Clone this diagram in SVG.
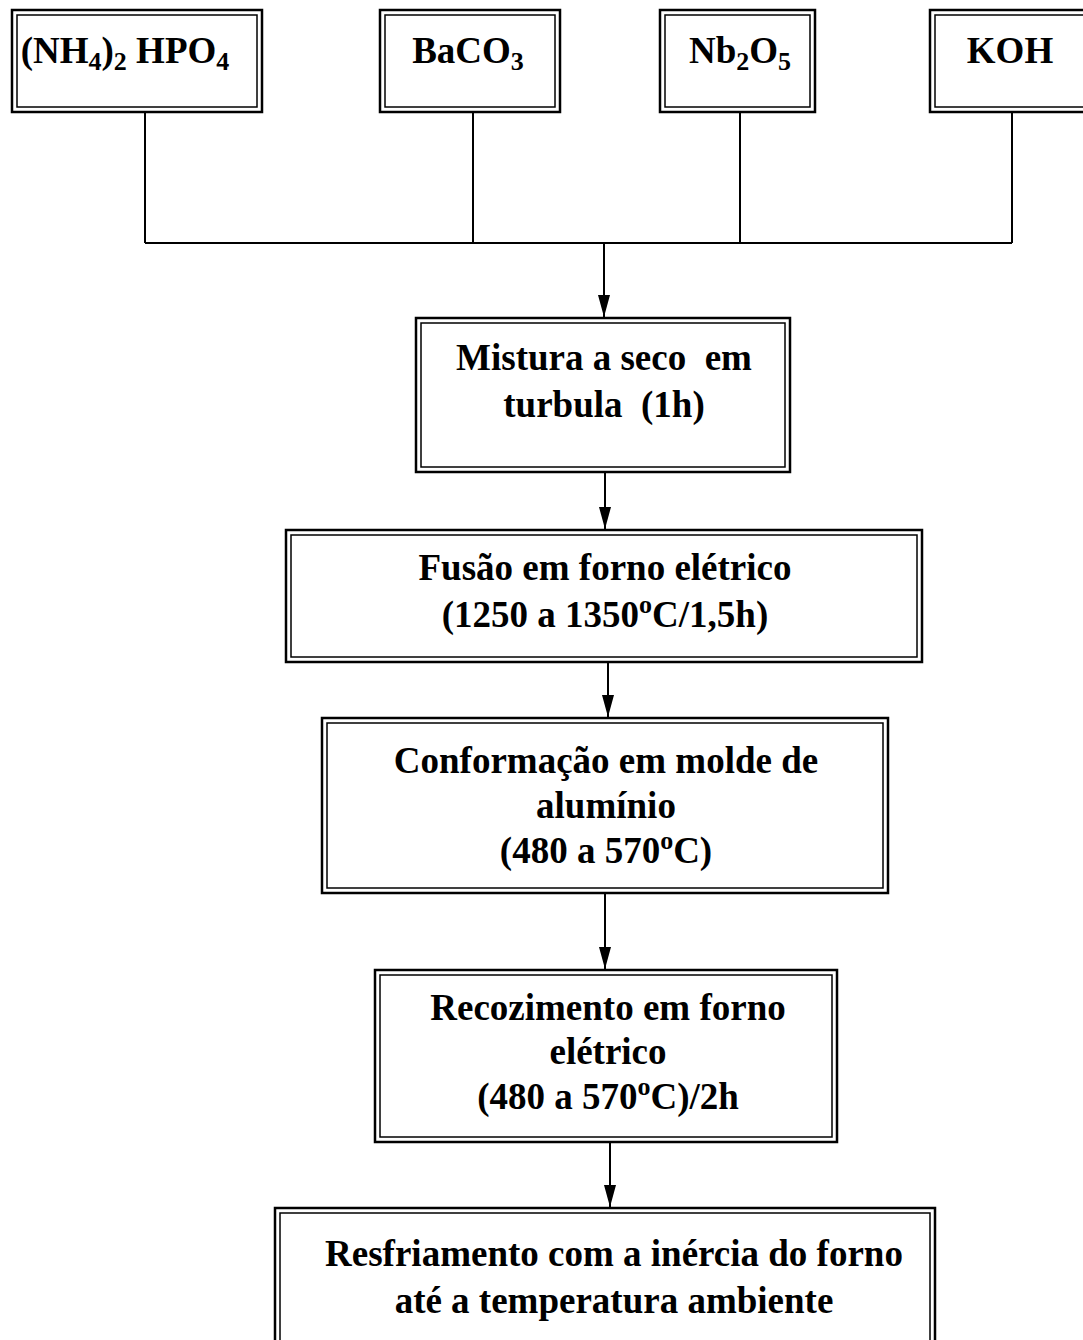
<svg xmlns="http://www.w3.org/2000/svg" width="1083" height="1340" viewBox="0 0 1083 1340">
<style>
.o{fill:#fff;stroke:#000;stroke-width:2.5}
.i{fill:none;stroke:#000;stroke-width:1.5}
.t{font-family:"Liberation Serif","Times New Roman",serif;font-weight:bold;font-size:37px;fill:#000;text-anchor:middle;white-space:pre}
.s{font-size:26px}
.c{fill:none;stroke:#000;stroke-width:2}
</style>
<defs>
<marker id="arr" markerWidth="22" markerHeight="12" refX="22" refY="6" orient="auto" markerUnits="userSpaceOnUse" viewBox="0 0 22 12">
<path d="M0,0 L22,6 L0,12 Z" fill="#000"/>
</marker>
</defs>
<rect width="1083" height="1340" fill="#fff"/>
<g id="connectors">
<path class="c" d="M145,112 V243 M473,112 V243 M740,112 V243 M1012,112 V243 M145,243 H1012"/>
<line class="c" x1="604" y1="243" x2="604" y2="317" marker-end="url(#arr)"/>
<line class="c" x1="605" y1="472" x2="605" y2="529" marker-end="url(#arr)"/>
<line class="c" x1="608" y1="662" x2="608" y2="717" marker-end="url(#arr)"/>
<line class="c" x1="605" y1="893" x2="605" y2="969" marker-end="url(#arr)"/>
<line class="c" x1="610" y1="1142" x2="610" y2="1207" marker-end="url(#arr)"/>
</g>
<g id="n1">
<rect class="o" x="12" y="10" width="250" height="102"/>
<rect class="i" x="17" y="15" width="240" height="92"/>
<text class="t" x="125" y="63">(NH<tspan class="s" dy="7">4</tspan><tspan dy="-7">)</tspan><tspan class="s" dy="7">2</tspan><tspan dy="-7"> HPO</tspan><tspan class="s" dy="7">4</tspan></text>
</g>
<g id="n2">
<rect class="o" x="380" y="10" width="180" height="102"/>
<rect class="i" x="385" y="15" width="170" height="92"/>
<text class="t" x="468" y="63">BaCO<tspan class="s" dy="7">3</tspan></text>
</g>
<g id="n3">
<rect class="o" x="660" y="10" width="155" height="102"/>
<rect class="i" x="665" y="15" width="145" height="92"/>
<text class="t" x="740" y="63">Nb<tspan class="s" dy="7">2</tspan><tspan dy="-7">O</tspan><tspan class="s" dy="7">5</tspan></text>
</g>
<g id="n4">
<rect class="o" x="930" y="10" width="170" height="102"/>
<rect class="i" x="935" y="15" width="160" height="92"/>
<text class="t" x="1010" y="63">KOH</text>
</g>
<g id="n5">
<rect class="o" x="416" y="318" width="374" height="154"/>
<rect class="i" x="421" y="323" width="364" height="144"/>
<text class="t" x="604" y="370">Mistura a seco  em</text>
<text class="t" x="604" y="417">turbula  (1h)</text>
</g>
<g id="n6">
<rect class="o" x="286" y="530" width="636" height="132"/>
<rect class="i" x="291" y="535" width="626" height="122"/>
<text class="t" x="605" y="580">Fusão em forno elétrico</text>
<text class="t" x="605" y="627">(1250 a 1350<tspan class="s" dy="-14">o</tspan><tspan dy="14">C/1,5h)</tspan></text>
</g>
<g id="n7">
<rect class="o" x="322" y="718" width="566" height="175"/>
<rect class="i" x="327" y="723" width="556" height="165"/>
<text class="t" x="606" y="773">Conformação em molde de</text>
<text class="t" x="606" y="818">alumínio</text>
<text class="t" x="606" y="863">(480 a 570<tspan class="s" dy="-14">o</tspan><tspan dy="14">C)</tspan></text>
</g>
<g id="n8">
<rect class="o" x="375" y="970" width="462" height="172"/>
<rect class="i" x="380" y="975" width="452" height="162"/>
<text class="t" x="608" y="1020">Recozimento em forno</text>
<text class="t" x="608" y="1064">elétrico</text>
<text class="t" x="608" y="1109">(480 a 570<tspan class="s" dy="-14">o</tspan><tspan dy="14">C)/2h</tspan></text>
</g>
<g id="n9">
<rect class="o" x="275" y="1208" width="660" height="145"/>
<rect class="i" x="280" y="1213" width="650" height="135"/>
<text class="t" x="614" y="1266">Resfriamento com a inércia do forno</text>
<text class="t" x="614" y="1313">até a temperatura ambiente</text>
</g>
</svg>
